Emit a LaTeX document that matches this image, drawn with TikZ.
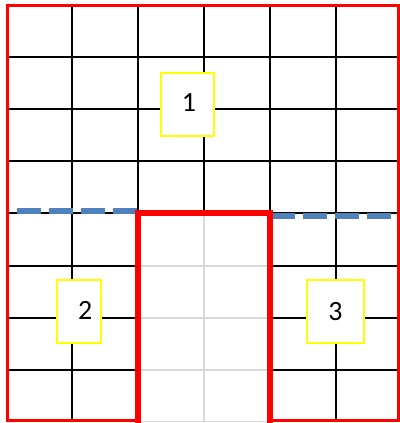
\documentclass[tikz,border=0pt]{standalone}
\usepackage{fontspec}
\setmainfont{Carlito}
\definecolor{outlinered}{HTML}{FF0000}
\definecolor{dashblue}{HTML}{4F81BD}
\definecolor{gridgray}{HTML}{D9D9D9}
\definecolor{labelyellow}{HTML}{FFFF00}
\newcommand{\zonetext}{\fontsize{28}{32}\selectfont}
\tikzset{
  gridline/.style={line width=1.5bp,color=black},
  fadedline/.style={line width=1.5bp,color=gridgray},
  frameline/.style={line width=3.3bp,color=outlinered},
  cutline/.style={line width=5.5bp,color=outlinered},
  splitline/.style={line width=6bp,color=dashblue,dash pattern=on 24bp off 8bp},
  zonebox/.style={draw=labelyellow,fill=white,line width=2bp,minimum height=63bp,inner sep=0pt},
  zonelabel/.style={font=\zonetext,inner sep=0pt}
}

\begin{document}
\begin{tikzpicture}[x=1bp,y=-1bp]
\useasboundingbox (0,0) rectangle (400,423);

% light grid in the cut-out
\draw[fadedline] (204,213) -- (204,421.5);
\draw[fadedline] (138,266) -- (270,266) (138,318) -- (270,318) (138,370) -- (270,370) (138,421.5) -- (270,421.5);

% black grid
\draw[gridline] (72,6) -- (72,420) (336,6) -- (336,420);
\draw[gridline] (138,6) -- (138,213) (204,6) -- (204,213) (270,6) -- (270,213);
\draw[gridline] (7,57) -- (399,57) (7,109) -- (399,109) (7,161) -- (399,161) (7,213) -- (399,213);
\draw[gridline] (7,266) -- (138,266) (270,266) -- (399,266);
\draw[gridline] (7,318) -- (138,318) (270,318) -- (399,318);
\draw[gridline] (7,370) -- (138,370) (270,370) -- (399,370);

% dashed split lines
\draw[splitline] (16.7,211.3) -- (136.7,211.3);
\draw[splitline] (271,215.5) -- (391,215.5);

% outer frame and cut-out
\draw[frameline] (138,420.5) -- (7.5,420.5) -- (7.5,5.7) -- (399,5.7) -- (399,420.5) -- (270,420.5);
\draw[cutline] (138,422.5) -- (138,213) -- (270,213) -- (270,422.5);

% zone labels
\node[zonebox,minimum width=53bp] (zone1) at (187.6,104.7) {};
\node[zonelabel] (num1) at (189,102.7) {1};
\node[zonebox,minimum width=44bp] (zone2) at (79.2,311.8) {};
\node[zonelabel] (num2) at (85.3,310.5) {2};
\node[zonebox,minimum width=57bp] (zone3) at (335.8,311.8) {};
\node[zonelabel] (num3) at (335.4,311.2) {3};
\end{tikzpicture}
\end{document}
